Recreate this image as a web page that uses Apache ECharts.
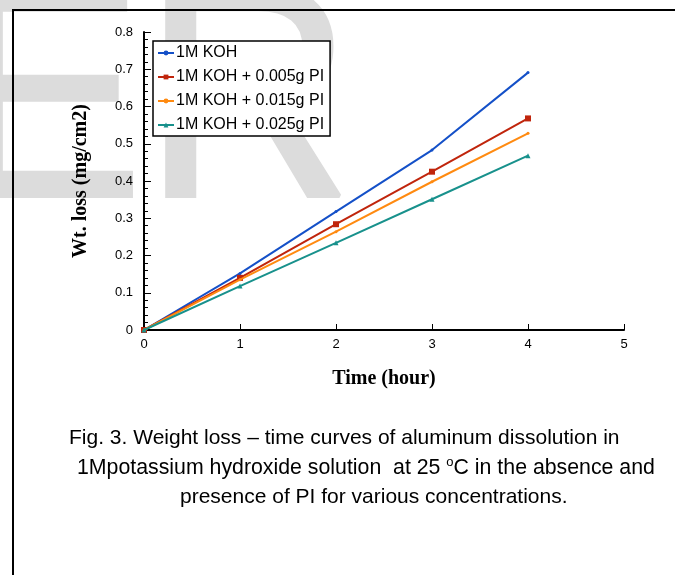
<!DOCTYPE html>
<html>
<head>
<meta charset="utf-8">
<script src="https://cdn.jsdelivr.net/npm/echarts@6/dist/echarts.min.js"></script>
<style>
html,body{margin:0;padding:0;background:#fff;}
#chart{width:675px;height:575px;}
</style>
</head>
<body>
<div id="chart"></div>
<script>
// ---- data ----
const hours = [0, 1, 2, 3, 4];
const seriesNames = ['1M KOH', '1M KOH + 0.005g PI', '1M KOH + 0.015g PI', '1M KOH + 0.025g PI'];
const koh      = [0, 0.152, 0.318, 0.483, 0.691];
const pi005    = [0, 0.140, 0.284, 0.425, 0.568];
const pi015    = [0, 0.135, 0.264, 0.398, 0.528];
const pi025    = [0, 0.118, 0.234, 0.351, 0.468];
const xTicks = [0, 1, 2, 3, 4, 5];
const yTicks = [0, 0.1, 0.2, 0.3, 0.4, 0.5, 0.6, 0.7, 0.8];
const captionLines = [
  'Fig. 3. Weight loss \u2013 time curves of aluminum dissolution in',
  '1Mpotassium hydroxide solution  at 25 {sup|o}C in the absence and',
  'presence of PI for various concentrations.'
];

const colors = ['#1450c8', '#c0250c', '#ff8a10', '#18918c'];
const symbols = ['circle', 'rect', 'circle', 'triangle'];
const symbolSizes = [3, 6, 3, 5];
const values = [koh, pi005, pi015, pi025];

function pairs(xs, ys){ return xs.map((x,i)=>[x, ys[i]]); }

const chart = echarts.init(document.getElementById('chart'), null, {renderer:'canvas'});
const sans = 'Liberation Sans, Arial, sans-serif';
const serif = 'Liberation Serif, Times New Roman, serif';

const option = {
  backgroundColor: '#fff',
  animation: false,
  grid: { left: 144, right: 51, top: 32, bottom: 245, containLabel: false },
  legend: {
    orient: 'vertical',
    left: 153, top: 41,
    padding: [4, 6, 3, 4],
    itemGap: 8,
    itemWidth: 16, itemHeight: 6,
    backgroundColor: '#fff',
    borderColor: '#000', borderWidth: 1.5, borderRadius: 0,
    textStyle: { fontFamily: sans, fontSize: 16, lineHeight: 16, color: '#000', padding: [0,0,0,-3] },
    data: seriesNames
  },
  xAxis: {
    type: 'value', min: xTicks[0], max: xTicks[xTicks.length-1], interval: 1,
    name: 'Time (hour)', nameLocation: 'middle', nameGap: 39,
    nameTextStyle: { fontFamily: serif, fontWeight: 'bold', fontSize: 20, color: '#000' },
    axisLine: { lineStyle: { color: '#000', width: 2 } },
    axisTick: { inside: true, length: 6, lineStyle: { color: '#000', width: 1 } },
    axisLabel: { color: '#000', fontFamily: sans, fontSize: 13, margin: 8 },
    splitLine: { show: false }
  },
  yAxis: {
    type: 'value', min: yTicks[0], max: yTicks[yTicks.length-1], interval: 0.1,
    name: 'Wt. loss (mg/cm2)', nameLocation: 'middle', nameGap: 53,
    nameTextStyle: { fontFamily: serif, fontWeight: 'bold', fontSize: 20, color: '#000' },
    axisLine: { show: true, lineStyle: { color: '#000', width: 2 } },
    axisTick: { inside: true, length: 7, lineStyle: { color: '#000', width: 1 } },
    minorTick: { show: true, splitNumber: 5, length: 4, lineStyle: { color: '#000', width: 1 } },
    axisLabel: { color: '#000', fontFamily: sans, fontSize: 13, margin: 11,
      formatter: v => (Math.abs(v) < 1e-9 ? '0' : v.toFixed(1)) },
    splitLine: { show: false }
  },
  series: seriesNames.map((n, i) => ({
    name: n, type: 'line',
    data: pairs(hours, values[i]),
    color: colors[i],
    lineStyle: { width: 2, color: colors[i] },
    itemStyle: { color: colors[i] },
    symbol: symbols[i], symbolSize: symbolSizes[i], showSymbol: true,
    z: 3 + i
  })),
  graphic: [
    { type: 'text', z: -10, silent: true, x: -50, y: 112, scaleY: 1.05,
      style: { text: 'ER', x: 0, y: 0, fill: '#dcdcdc', stroke: '#dcdcdc', lineWidth: 4,
               font: 'normal 290px ' + sans, verticalAlign: 'middle', align: 'left' } },
    { type: 'rect', z: 100, silent: true,
      shape: { x: 13, y: 10, width: 800, height: 700 },
      style: { fill: 'none', stroke: '#000', lineWidth: 2 } },
    { type: 'text', z: 100, style: { text: captionLines[0], x: 69, y: 438, fill: '#000', font: 'normal 21px ' + sans, verticalAlign: 'middle' } },
    { type: 'text', z: 100, style: { text: captionLines[1], x: 77, y: 468, fill: '#000', font: 'normal 21.3px ' + sans, verticalAlign: 'middle',
        rich: { sup: { fontSize: 13, fontFamily: sans, verticalAlign: 'top', padding: [0,0,12,0] } } } },
    { type: 'text', z: 100, style: { text: captionLines[2], x: 180, y: 497, fill: '#000', font: 'normal 21px ' + sans, verticalAlign: 'middle' } }
  ]
};
chart.setOption(option);
</script>
</body>
</html>
